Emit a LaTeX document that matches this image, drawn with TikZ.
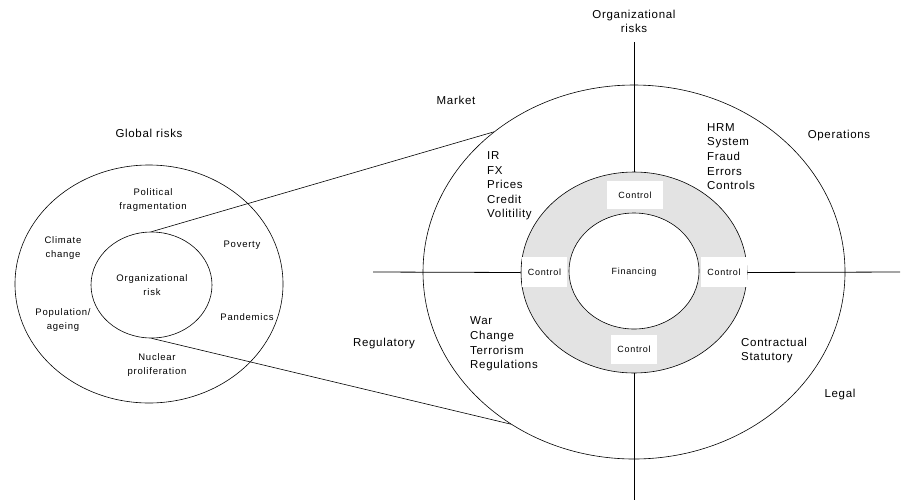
\documentclass[tikz,border=0pt]{standalone}
\usepackage{fontspec}
\setmainfont{Liberation Sans}
\newfontfamily\lblfont[LetterSpace=6]{Liberation Sans}
\newfontfamily\smlfont[LetterSpace=8]{Liberation Sans}
\usetikzlibrary{shapes.geometric}
\begin{document}
\begin{tikzpicture}[x=1pt,y=-1pt,
  ell/.style={draw, ellipse, inner sep=0pt, line width=0.6pt},
  biglbl/.style={font=\lblfont\fontsize{11.5}{14.6}\selectfont, inner sep=0pt, align=left},
  biglblc/.style={font=\lblfont\fontsize{11.5}{13.5}\selectfont, inner sep=0pt, align=center},
  smllbl/.style={font=\smlfont\fontsize{9.5}{14}\selectfont, inner sep=0pt, align=center},
  ctl/.style={fill=white, inner sep=0pt, font=\smlfont\fontsize{9}{10}\selectfont},
  axis/.style={line width=0.8pt}
]
\fill[white] (0,0) rectangle (901,501);
\useasboundingbox (0,0) rectangle (901,501);

% left ellipses
\node[ell, minimum width=268pt, minimum height=238pt] (gout) at (149,284) {};
\node[ell, minimum width=121pt, minimum height=106pt] (gin) at (151.5,285) {};

% right big ellipse
\node[ell, minimum width=422pt, minimum height=374pt] (big) at (634,272) {};

% axes
\coordinate (atop) at (634,42);
\coordinate (abot) at (634,500);
\coordinate (aleft) at (373,272);
\coordinate (aright) at (900,272);

% ring
\node[ell, fill=black!11, minimum width=226pt, minimum height=201pt] (ring) at (634,272.5) {};
\node[ell, fill=white, minimum width=130pt, minimum height=116pt] (core) at (634,271) {};

\draw[axis] (atop) -- (ring.north);
\draw[axis] (ring.south) -- (abot);
\draw[axis] (aleft) -- (ring.west);
\draw[axis] (ring.east) -- (aright);

% connectors
\draw[line width=0.6pt] (gin.north) -- (big.135);
\draw[line width=0.6pt] (gin.south) -- (big.231.7);

% control boxes
\node[ctl, minimum width=56pt, minimum height=28pt] (c1) at (635,195) {Control};
\node[ctl, minimum width=45pt, minimum height=30pt] (c2) at (544.5,272) {Control};
\node[ctl, minimum width=46pt, minimum height=30pt] (c3) at (724,272) {Control};
\node[ctl, minimum width=46pt, minimum height=29pt] (c4) at (634,349.5) {Control};
\node[ctl, fill=none] (fin) at (634,272) {Financing};

% left labels
\node[biglblc] (glob) at (149,133) {Global risks};
\node[smllbl] (pol) at (153,200) {Political\\fragmentation};
\node[smllbl] (clim) at (63,248) {Climate\\change};
\node[smllbl] (pov) at (242,245) {Poverty};
\node[smllbl] (org) at (152,285) {Organizational\\risk};
\node[smllbl] (popu) at (63,320) {Population/\\ageing};
\node[smllbl] (pand) at (247,317) {Pandemics};
\node[smllbl] (nuc) at (157,365) {Nuclear\\proliferation};

% right labels
\node[biglblc] (orgr) at (634,21.5) {Organizational\\risks};
\node[biglblc] (mkt) at (456,100) {Market};
\node[biglbl, anchor=west] (ops) at (707,156.5) {HRM\\System\\Fraud\\Errors\\Controls};
\node[biglblc] (oper) at (839,136) {Operations};
\node[biglbl, anchor=west] (mk) at (487,186) {IR\\FX\\Prices\\Credit\\Volitility};
\node[biglblc] (reg) at (384,344) {Regulatory};
\node[biglbl, anchor=west] (rg) at (470,344) {War\\Change\\Terrorism\\Regulations};
\node[biglbl, anchor=west] (lg) at (741,350.5) {Contractual\\Statutory};
\node[biglblc] (legal) at (840,395) {Legal};
\end{tikzpicture}
\end{document}
